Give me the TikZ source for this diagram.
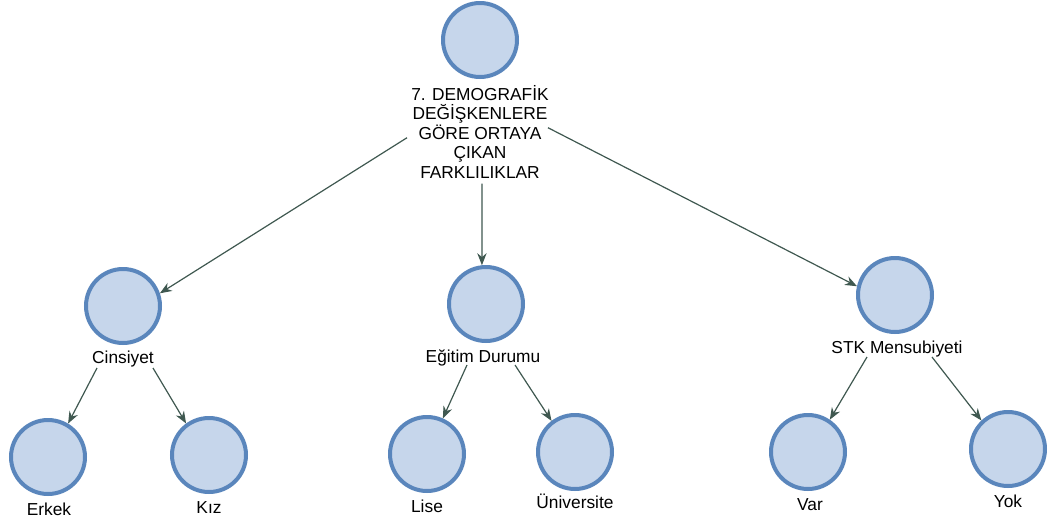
\documentclass[tikz,border=0pt]{standalone}
\usepackage{fontspec}
\setmainfont{Liberation Sans}
\usetikzlibrary{arrows.meta,calc}
\definecolor{cfill}{HTML}{C6D6EB}
\definecolor{cline}{HTML}{5A86BC}
\definecolor{arr}{HTML}{3F5850}
\tikzset{
  bubble/.style={circle,draw=cline,fill=cfill,line width=3pt,minimum size=55.5pt,inner sep=0pt},
  lbl/.style={anchor=base,inner sep=0pt,font=\fontsize{13pt}{14.6pt}\selectfont},
  conn/.style={draw=arr,line width=0.9pt,-{Stealth[length=9pt,width=7pt]}}
}
\begin{document}
\begin{tikzpicture}[x=0.75pt,y=-0.75pt]
\useasboundingbox (0,0) rectangle (1054,522);
% circles
\node[bubble] (root) at (480,40) {};
\node[bubble] (cins) at (123,306) {};
\node[bubble] (egit) at (486,304) {};
\node[bubble] (stk)  at (895,295) {};
\node[bubble] (erkek) at (48,457) {};
\node[bubble] (kiz)  at (209,455) {};
\node[bubble] (lise) at (427,454) {};
\node[bubble] (univ) at (575,452) {};
\node[bubble] (var)  at (808,452) {};
\node[bubble] (yok)  at (1008,449) {};
% labels
\node[lbl,anchor=north,align=center] (rootlbl) at (480,85) {7. DEMOGRAFİK\\DEĞİŞKENLERE\\GÖRE ORTAYA\\ÇIKAN\\FARKLILIKLAR};
\node[lbl] (cinslbl) at (123,363) {Cinsiyet};
\node[lbl] (egitlbl) at (483,362) {Eğitim Durumu};
\node[lbl] (stklbl) at (897,353) {STK Mensubiyeti};
\node[lbl] (erkeklbl) at (49,515) {Erkek};
\node[lbl] (kizlbl) at (209,513) {Kız};
\node[lbl] (liselbl) at (427,512) {Lise};
\node[lbl] (univlbl) at (575,508) {Üniversite};
\node[lbl] (varlbl) at (810,510) {Var};
\node[lbl] (yoklbl) at (1008,507) {Yok};
% connector starts
\coordinate (rA) at ($(rootlbl.center)+(-73,6)$);
\coordinate (rB) at ($(rootlbl.center)+(2,52)$);
\coordinate (rC) at ($(rootlbl.center)+(68,-4)$);
\coordinate (cA) at ($(cinslbl.base)+(-26,5)$);
\coordinate (cB) at ($(cinslbl.base)+(30,5)$);
\coordinate (eA) at ($(egitlbl.base)+(-16,3)$);
\coordinate (eB) at ($(egitlbl.base)+(32,3)$);
\coordinate (sA) at ($(stklbl.base)+(-30,4)$);
\coordinate (sB) at ($(stklbl.base)+(35,4)$);
% connectors
\draw[conn] (rA) -- (cins.19);
\draw[conn] (rB) -- (egit.96);
\draw[conn] (rC) -- (stk.167);
\draw[conn] (cA) -- (erkek.59);
\draw[conn] (cB) -- (kiz.126);
\draw[conn] (eA) -- (lise.66);
\draw[conn] (eB) -- (univ.127);
\draw[conn] (sA) -- (var.56);
\draw[conn] (sB) -- (yok.133);
\end{tikzpicture}
\end{document}
